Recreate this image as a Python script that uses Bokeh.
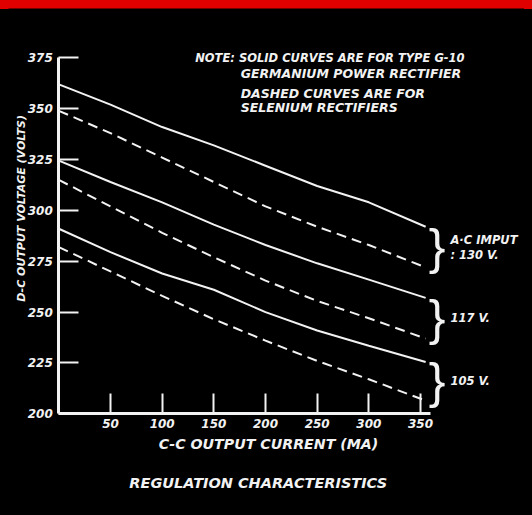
from bokeh.plotting import figure
from bokeh.models import Label, FixedTicker, Range1d
from bokeh.embed import file_html
from bokeh.resources import INLINE

# ---- data ----
current = [0, 50, 100, 150, 200, 250, 300, 355]          # D-C output current (mA)
ge_130 = [362, 352, 341, 332, 322, 312, 304, 292]         # germanium, 130 V input (solid)
se_130 = [349, 338, 326, 314, 302, 292, 283, 272]         # selenium, 130 V input (dashed)
ge_117 = [324.5, 314, 304, 293, 283, 274, 266, 257]
se_117 = [315, 302, 289, 277, 265.5, 255.5, 247, 237]
ge_105 = [291, 279.5, 269, 261, 250, 241, 233.5, 225.5]
se_105 = [282, 270, 258, 246.5, 236, 226, 217, 206.5]

x_ticks = [50, 100, 150, 200, 250, 300, 350]
y_ticks = [200, 225, 250, 275, 300, 325, 350, 375]
group_labels = [["A·C IMPUT", ": 130 V."], ["117 V."], ["105 V."]]
note_lines = ["NOTE: SOLID CURVES ARE FOR TYPE G-10",
              "GERMANIUM POWER RECTIFIER",
              "DASHED CURVES ARE FOR",
              "SELENIUM RECTIFIERS"]
x_title = "C-C OUTPUT CURRENT (MA)"
y_title = "D-C OUTPUT VOLTAGE (VOLTS)"
chart_title = "REGULATION CHARACTERISTICS"

FG = "#f2f2f2"
FONT = "DejaVu Sans"

# the frame fills the whole canvas; axes are pinned inside it
p = figure(width=524, height=507, output_backend="svg", toolbar_location=None,
           x_range=Range1d(-48.7, 458.4), y_range=Range1d(150.0, 399.3),
           min_border=0, background_fill_color="black", border_fill_color="black")
p.outline_line_color = None
p.grid.visible = False

p.xaxis.fixed_location = 200
p.yaxis.fixed_location = 0
p.xaxis.bounds = (0, 360)
p.yaxis.bounds = (200, 375)

for ax, ticks in ((p.xaxis, x_ticks), (p.yaxis, y_ticks)):
    ax.ticker = FixedTicker(ticks=ticks)
    ax.axis_line_color = FG
    ax.axis_line_width = 3
    ax.major_tick_line_color = FG
    ax.major_tick_line_width = 2
    ax.major_tick_in = 20
    ax.major_tick_out = 0
    ax.minor_tick_line_color = None
    ax.major_label_text_color = FG
    ax.major_label_text_font = FONT
    ax.major_label_text_font_style = "bold italic"
    ax.major_label_text_font_size = "12px"
p.xaxis.major_label_standoff = 5
p.yaxis.major_label_standoff = 6

series = [(ge_130, "solid"), (se_130, "10 6"), (ge_117, "solid"),
          (se_117, "10 6"), (ge_105, "solid"), (se_105, "10 6")]
for ys, dash in series:
    p.line(current, ys, line_color=FG, line_width=2, line_dash=dash)

# braces and group labels, centred on the end of each pair of curves
pairs = [(ge_130, se_130), (ge_117, se_117), (ge_105, se_105)]
for (solid, dashed), labels in zip(pairs, group_labels):
    yc = (solid[-1] + dashed[-1]) / 2
    p.add_layout(Label(x=366, y=yc, text="}", text_color=FG, text_font="Liberation Sans",
                       text_font_size="50px", text_align="center", text_baseline="middle"))
    n = len(labels)
    for i, t in enumerate(labels):
        p.add_layout(Label(x=379, y=yc + (n - 1) * 3.7 - i * 7.4, text=t, text_color=FG,
                           text_font=FONT, text_font_style="bold italic",
                           text_font_size="11.5px", text_align="left", text_baseline="middle"))

note_pos = [(132, 375.2), (176, 367.3), (176, 357.5), (176, 350.6)]
note_size = ["11.5px", "12.5px", "12.5px", "12.5px"]
for (nx, ny), t, fs in zip(note_pos, note_lines, note_size):
    p.add_layout(Label(x=nx, y=ny, text=t, text_color=FG, text_font=FONT,
                       text_font_style="bold italic", text_font_size=fs,
                       text_align="left", text_baseline="middle"))

p.add_layout(Label(x=-36, y=301, text=y_title, angle=1.5708, text_color=FG, text_font=FONT,
                   text_font_style="bold italic", text_font_size="11px",
                   text_align="center", text_baseline="middle"))
p.add_layout(Label(x=203, y=185.4, text=x_title, text_color=FG, text_font=FONT,
                   text_font_style="bold italic", text_font_size="14.2px",
                   text_align="center", text_baseline="middle"))
p.add_layout(Label(x=193, y=166.2, text=chart_title, text_color=FG, text_font=FONT,
                   text_font_style="bold italic", text_font_size="14.5px",
                   text_align="center", text_baseline="middle"))

page_style = ('<body style="margin:8px;background:#000 linear-gradient(#e00000,#e00000) '
              'no-repeat top left / 100% 9px;">')
open("out.html", "w").write(file_html(p, INLINE).replace("<body>", page_style))
